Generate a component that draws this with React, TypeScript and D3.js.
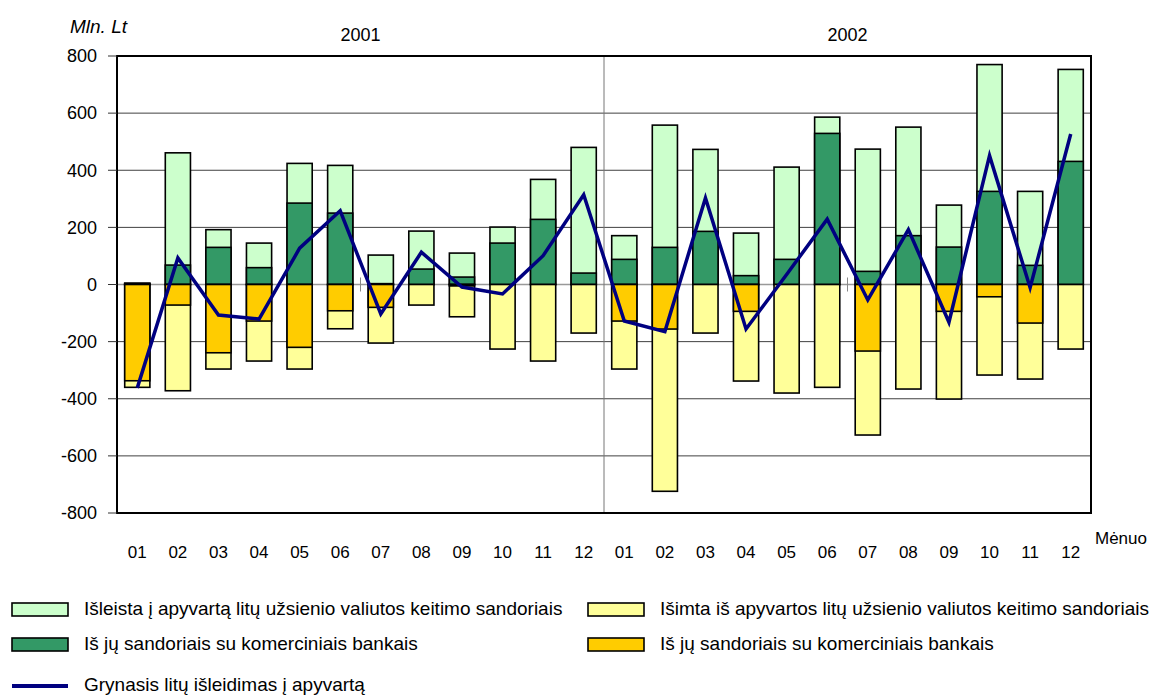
import React from "react";
import * as d3 from "d3";

// months, two years
const months = ["01", "02", "03", "04", "05", "06", "07", "08", "09", "10", "11", "12"];
const years = ["2001", "2002"];
const categories = years.flatMap((yr) => months.map((m) => `${yr}-${m}`));

// Išleista į apyvartą (total issued)
const issued = [5, 461, 192, 145, 424, 417, 103, 187, 110, 201, 368, 480, 171, 558, 473, 180, 411, 586, 474, 551, 278, 770, 326, 753];
// of which with commercial banks
const issuedBanks = [3, 68, 130, 59, 285, 250, 3, 54, 26, 145, 228, 40, 88, 130, 186, 31, 88, 529, 46, 171, 131, 326, 67, 431];
// Išimta iš apyvartos (total withdrawn)
const withdrawn = [-360, -372, -296, -268, -296, -155, -205, -72, -113, -226, -268, -170, -296, -724, -170, -338, -380, -360, -527, -366, -401, -317, -331, -226];
// of which with commercial banks
const withdrawnBanks = [-337, -72, -239, -128, -220, -92, -80, 0, -5, 0, 0, 0, -128, -156, 0, -94, 0, 0, -233, 0, -94, -43, -135, 0];
// net issue
const net = [-362, 93, -107, -121, 127, 258, -103, 113, -9, -33, 101, 314, -128, -165, 303, -156, 35, 229, -54, 192, -132, 451, -11, 527];

const yTicks = [-800, -600, -400, -200, 0, 200, 400, 600, 800];

const FONT = "'Liberation Sans', Arial, sans-serif";
const C_ISSUED = "#CCFFCC";
const C_ISSUED_B = "#339966";
const C_WITH = "#FFFF99";
const C_WITH_B = "#FFCC00";
const C_NET = "#000080";

export default function App() {
  const width = 1157;
  const height = 698;
  const margin = { top: 56, right: 66, bottom: 185, left: 117 };
  const x0 = margin.left;
  const x1 = width - margin.right;
  const y0 = margin.top;
  const y1 = height - margin.bottom;

  const x = d3.scaleBand().domain(categories).range([x0, x1]).paddingInner(0.38).paddingOuter(0.19);
  const y = d3.scaleLinear().domain([-800, 800]).range([y1, y0]);
  const step = x.step();
  const cx = (c) => (x(c) ?? 0) + x.bandwidth() / 2;

  const line = d3
    .line<number>()
    .x((_, i) => cx(categories[i]))
    .y((d) => y(d));

  const bar = (vals, fill, key) =>
    vals.map((v, i) => {
      if (v === 0) return null;
      const top = Math.min(y(v), y(0));
      const h = Math.abs(y(v) - y(0));
      return (
        <rect
          key={`${key}-${i}`}
          x={x(categories[i])}
          y={top}
          width={x.bandwidth()}
          height={h}
          fill={fill}
          stroke="#000"
          strokeWidth={1.6}
        />
      );
    });

  const legend = [
    { label: "Išleista į apyvartą litų užsienio valiutos keitimo sandoriais", fill: C_ISSUED, lx: 12, ly: 603 },
    { label: "Išimta iš apyvartos litų užsienio valiutos keitimo sandoriais", fill: C_WITH, lx: 588, ly: 603 },
    { label: "Iš jų sandoriais su komerciniais bankais", fill: C_ISSUED_B, lx: 12, ly: 638 },
    { label: "Iš jų sandoriais su komerciniais bankais", fill: C_WITH_B, lx: 588, ly: 638 },
  ];

  return (
    <svg width={width} height={height} style={{ position: "absolute", left: 0, top: 0, fontFamily: FONT }}>
      <rect width={width} height={height} fill="#fff" />

      {/* grid lines */}
      {yTicks.map((t) => (
        <line key={`g${t}`} x1={x0} x2={x1} y1={y(t)} y2={y(t)} stroke={t === 0 ? "#999" : "#404040"} strokeWidth={t === 0 ? 1.5 : 1} />
      ))}

      {/* year divider */}
      <line x1={x0 + step * 12} x2={x0 + step * 12} y1={y0} y2={y1} stroke="#777" strokeWidth={1} />
      {[6, 18].map((k) => (
        <line key={`ct${k}`} x1={x0 + step * k} x2={x0 + step * k} y1={y(0) - 7} y2={y(0) + 7} stroke="#888" strokeWidth={1} />
      ))}

      {/* bars */}
      {bar(issued, C_ISSUED, "iss")}
      {bar(issuedBanks, C_ISSUED_B, "issb")}
      {bar(withdrawn, C_WITH, "wd")}
      {bar(withdrawnBanks, C_WITH_B, "wdb")}

      {/* net line */}
      <path d={line(net) ?? ""} fill="none" stroke={C_NET} strokeWidth={3.5} strokeLinejoin="miter" />

      {/* frame */}
      <rect x={x0} y={y0} width={x1 - x0} height={y1 - y0} fill="none" stroke="#000" strokeWidth={2} />

      {/* y axis */}
      {yTicks.map((t) => (
        <g key={`yt${t}`}>
          <line x1={x0 - 9} x2={x0} y1={y(t)} y2={y(t)} stroke="#333" strokeWidth={1} />
          <text x={97} y={y(t)} dy="0.35em" textAnchor="end" fontSize={18} fill="#000">
            {t}
          </text>
        </g>
      ))}
      <text x={70} y={33} fontSize={19} fontStyle="italic" fill="#000">
        Mln. Lt
      </text>

      {/* year labels */}
      {years.map((yr, k) => (
        <text key={yr} x={x0 + step * (6 + 12 * k)} y={41} textAnchor="middle" fontSize={18} fill="#000">
          {yr}
        </text>
      ))}

      {/* x labels */}
      {categories.map((c, i) => (
        <text key={c} x={cx(c)} y={558} textAnchor="middle" fontSize={17} fill="#000">
          {months[i % 12]}
        </text>
      ))}
      <text x={1095} y={544} fontSize={17} fill="#000">
        Mėnuo
      </text>

      {/* legend */}
      {legend.map((l, i) => (
        <g key={`lg${i}`}>
          <rect x={l.lx} y={l.ly} width={56} height={13} fill={l.fill} stroke="#000" strokeWidth={1.6} />
          <text x={l.lx + 72} y={l.ly + 12} fontSize={19} fill="#000">
            {l.label}
          </text>
        </g>
      ))}
      <line x1={12} x2={68} y1={686} y2={686} stroke={C_NET} strokeWidth={4} />
      <text x={84} y={691} fontSize={19} fill="#000">
        Grynasis litų išleidimas į apyvartą
      </text>
    </svg>
  );
}
